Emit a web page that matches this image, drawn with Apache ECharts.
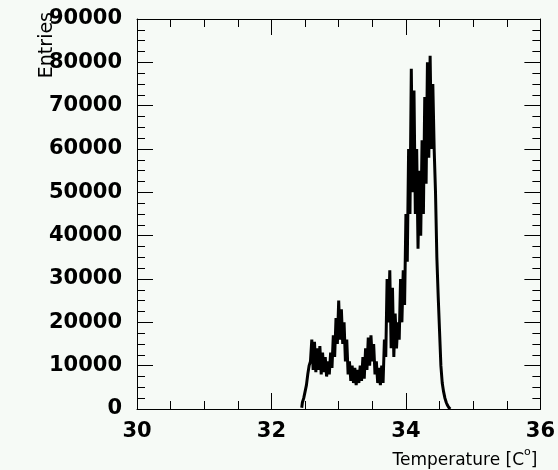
<!DOCTYPE html>
<html>
<head>
<meta charset="utf-8">
<script src="https://cdn.jsdelivr.net/npm/echarts@6/dist/echarts.min.js"></script>
<style>
html,body{margin:0;padding:0;background:#f6faf6;}
#chart{width:558px;height:470px;}
</style>
</head>
<body>
<div id="chart"></div>
<script>
// Histogram definition
const binLow = 32.44;      // low edge of first bin
const binWidth = 0.02;
const entries = [300,1500,2500,4000,5500,8000,10000,11000,16000,9000,
  15500,8500,14000,9000,14500,8000,13000,8500,12000,7500,
  11000,8000,13000,9500,17000,12000,21000,15000,25000,16000,
  23000,15000,20000,11000,16000,8000,11000,6500,10000,6000,
  9500,5500,9000,6000,10000,6500,12000,7000,14000,9000,
  16500,10000,17000,11000,15000,8000,11000,6000,9500,5500,
  10000,6000,16000,12000,30000,20000,32000,14000,28000,12000,
  22000,14000,20000,16000,30000,20000,32000,24000,45000,34000,
  60000,45000,78500,50000,73500,45000,60000,37000,55000,40000,
  62000,45000,72000,52000,80000,58000,81500,60000,75000,60000,
  50000,35000,26000,18000,10000,6000,4000,2500,1500,800,300,0];
const xTicks = [30, 32, 34, 36];
const yTicks = [0,10000,20000,30000,40000,50000,60000,70000,80000,90000];

const data = entries.map((v, i) => [binLow + binWidth * (i + 0.5), v]);

const labelFont = {fontFamily: 'DejaVu Sans', fontWeight: 'bold', fontSize: 21, color: '#000'};
const lineStyle = {color: '#000', width: 1};
const plain = v => String(v);

const chart = echarts.init(document.getElementById('chart'), null, {renderer: 'canvas'});
chart.setOption({
  backgroundColor: '#f6faf6',
  animation: false,
  grid: {left: 137, right: 15, top: 19, bottom: 61, show: false},
  xAxis: [{
    type: 'value', min: xTicks[0], max: xTicks[xTicks.length - 1], interval: 2, position: 'bottom',
    axisLine: {show: true, onZero: false, lineStyle},
    axisTick: {show: true, inside: true, length: 16, lineStyle},
    minorTick: {show: true, splitNumber: 4, length: 8, lineStyle},
    splitLine: {show: false},
    axisLabel: Object.assign({margin: 12, formatter: plain}, labelFont),
    name: '{a|Temperature [C}{s|o}{a|]}',
    nameLocation: 'end',
    nameGap: -3,
    nameTextStyle: {
      align: 'right', verticalAlign: 'top', padding: [38, 0, 0, 0],
      rich: {
        a: {fontFamily: 'DejaVu Sans', fontSize: 17, color: '#000', lineHeight: 22, verticalAlign: 'bottom'},
        s: {fontFamily: 'DejaVu Sans', fontSize: 11, color: '#000', lineHeight: 22, verticalAlign: 'top', padding: [0, 0, 10, 0]}
      }
    }
  }, {
    type: 'value', min: xTicks[0], max: xTicks[xTicks.length - 1], interval: 2, position: 'top',
    axisLine: {show: true, onZero: false, lineStyle},
    axisTick: {show: true, inside: true, length: 16, lineStyle},
    minorTick: {show: true, splitNumber: 4, length: 8, lineStyle},
    splitLine: {show: false},
    axisLabel: {show: false}
  }],
  yAxis: [{
    type: 'value', min: yTicks[0], max: yTicks[yTicks.length - 1], interval: 10000, position: 'left',
    axisLine: {show: true, onZero: false, lineStyle},
    axisTick: {show: true, inside: true, length: 16, lineStyle},
    minorTick: {show: true, splitNumber: 4, length: 8, lineStyle},
    splitLine: {show: false},
    axisLabel: Object.assign({margin: 15, formatter: plain}, labelFont)
  }, {
    type: 'value', min: yTicks[0], max: yTicks[yTicks.length - 1], interval: 10000, position: 'right',
    axisLine: {show: true, onZero: false, lineStyle},
    axisTick: {show: true, inside: true, length: 16, lineStyle},
    minorTick: {show: true, splitNumber: 4, length: 8, lineStyle},
    splitLine: {show: false},
    axisLabel: {show: false}
  }],
  graphic: [{
    type: 'text', x: 47, y: 12, rotation: Math.PI / 2, z: 100,
    style: {text: 'Entries', align: 'right', verticalAlign: 'middle',
      font: '19px "DejaVu Sans"', fill: '#000'}
  }],
  series: [{
    type: 'line', xAxisIndex: 0, yAxisIndex: 0,
    data: data, step: 'middle', showSymbol: false, symbol: 'none',
    lineStyle: {color: '#000', width: 3}
  }]
});
</script>
</body>
</html>
